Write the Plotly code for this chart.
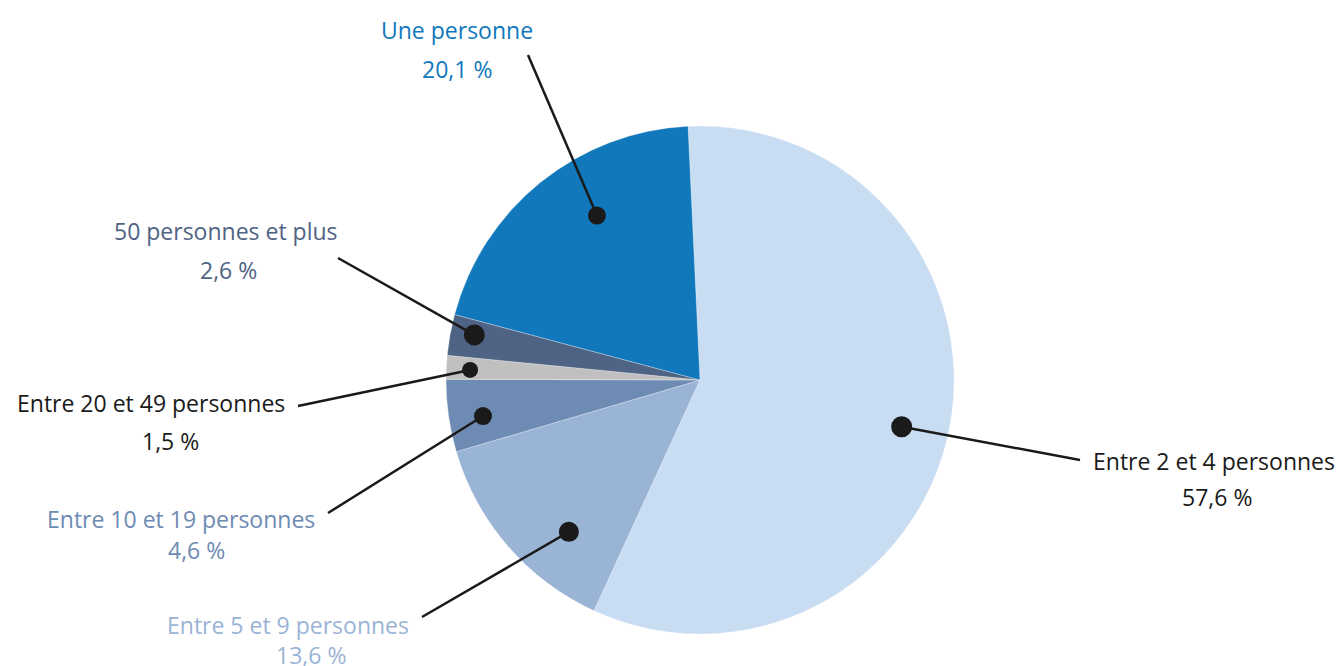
import math
import plotly.graph_objects as go

# Household size categories and their shares (%)
categories = [
    "Entre 2 et 4 personnes",
    "Entre 5 et 9 personnes",
    "Entre 10 et 19 personnes",
    "Entre 20 et 49 personnes",
    "50 personnes et plus",
    "Une personne",
]
shares = [57.6, 13.6, 4.6, 1.5, 2.6, 20.1]
share_labels = ["57,6 %", "13,6 %", "4,6 %", "1,5 %", "2,6 %", "20,1 %"]

slice_colors = ["#c8dcf2", "#9ab4d6", "#6e8bb3", "#c0c0c0", "#4f6384", "#1178bc"]
label_colors = ["#1a1a1a", "#9ab4d6", "#6e8bb3", "#1a1a1a", "#4f6384", "#1178bc"]

W, H = 1342, 666
CX, CY, R = 700, 380, 254     # pie centre and radius in pixels
ROTATION = -2.7               # start angle of the first slice (clockwise from 12 o'clock)

# Callout styling: where inside each slice the dot sits (fraction of the slice angle,
# fraction of the radius), dot diameter, the outer end of the leader line, and text placement.
dot_pos = [(0.51, 0.815), (0.33, 0.79), (0.42, 0.866), (0.43, 0.906), (0.61, 0.906), (0.594, 0.764)]
dot_size = [21, 20, 18, 16, 21, 18]
line_end = [(1080, 460), (422, 617), (328, 513), (298, 406), (338, 258), (528, 55)]
name_xy = [(1214, 461), (288, 625), (181, 519), (151, 403), (226, 231), (457, 30)]
value_xy = [(1217, 497), (311, 655), (196, 550), (170, 441), (228, 270), (457, 69)]

FONT = "Open Sans"
FONT_SIZE = 23

fig = go.Figure()

fig.add_trace(go.Pie(
    labels=categories,
    values=shares,
    sort=False,
    direction="clockwise",
    rotation=ROTATION,
    marker=dict(colors=slice_colors, line=dict(width=0.6, color="rgba(255,255,255,0.5)")),
    textinfo="none",
    hoverinfo="label+value",
    showlegend=False,
    domain=dict(x=[(CX - R) / W, (CX + R) / W], y=[(H - CY - R) / H, (H - CY + R) / H]),
))

# Leader lines and dots, placed from the slice angles (drawn as shapes above the pie)
total = sum(shares)
start = ROTATION
shapes = []
for i, v in enumerate(shares):
    span = v / total * 360.0
    f, rf = dot_pos[i]
    a = math.radians(start + f * span)
    dx = CX + rf * R * math.sin(a)
    dy = CY - rf * R * math.cos(a)
    start += span
    ex, ey = line_end[i]
    shapes.append(dict(type="line", xref="x", yref="y", x0=ex, y0=ey, x1=dx, y1=dy,
                       line=dict(color="#1a1a1a", width=2.5), layer="above"))
    r = dot_size[i] / 2
    shapes.append(dict(type="circle", xref="x", yref="y",
                       x0=dx - r, x1=dx + r, y0=dy - r, y1=dy + r,
                       fillcolor="#1a1a1a", line=dict(width=0), layer="above"))

for i, name in enumerate(categories):
    nx, ny = name_xy[i]
    vx, vy = value_xy[i]
    fig.add_annotation(x=nx, y=ny, text=name, showarrow=False, xref="x", yref="y",
                       font=dict(family=FONT, size=FONT_SIZE, color=label_colors[i]))
    fig.add_annotation(x=vx, y=vy, text=share_labels[i], showarrow=False, xref="x", yref="y",
                       font=dict(family=FONT, size=FONT_SIZE, color=label_colors[i]))

fig.update_layout(
    width=W, height=H,
    margin=dict(l=0, r=0, t=0, b=0),
    paper_bgcolor="white", plot_bgcolor="rgba(0,0,0,0)",
    xaxis=dict(range=[0, W], visible=False, fixedrange=True),
    yaxis=dict(range=[H, 0], visible=False, fixedrange=True),
    shapes=shapes,
)

fig.write_html("out.html")
